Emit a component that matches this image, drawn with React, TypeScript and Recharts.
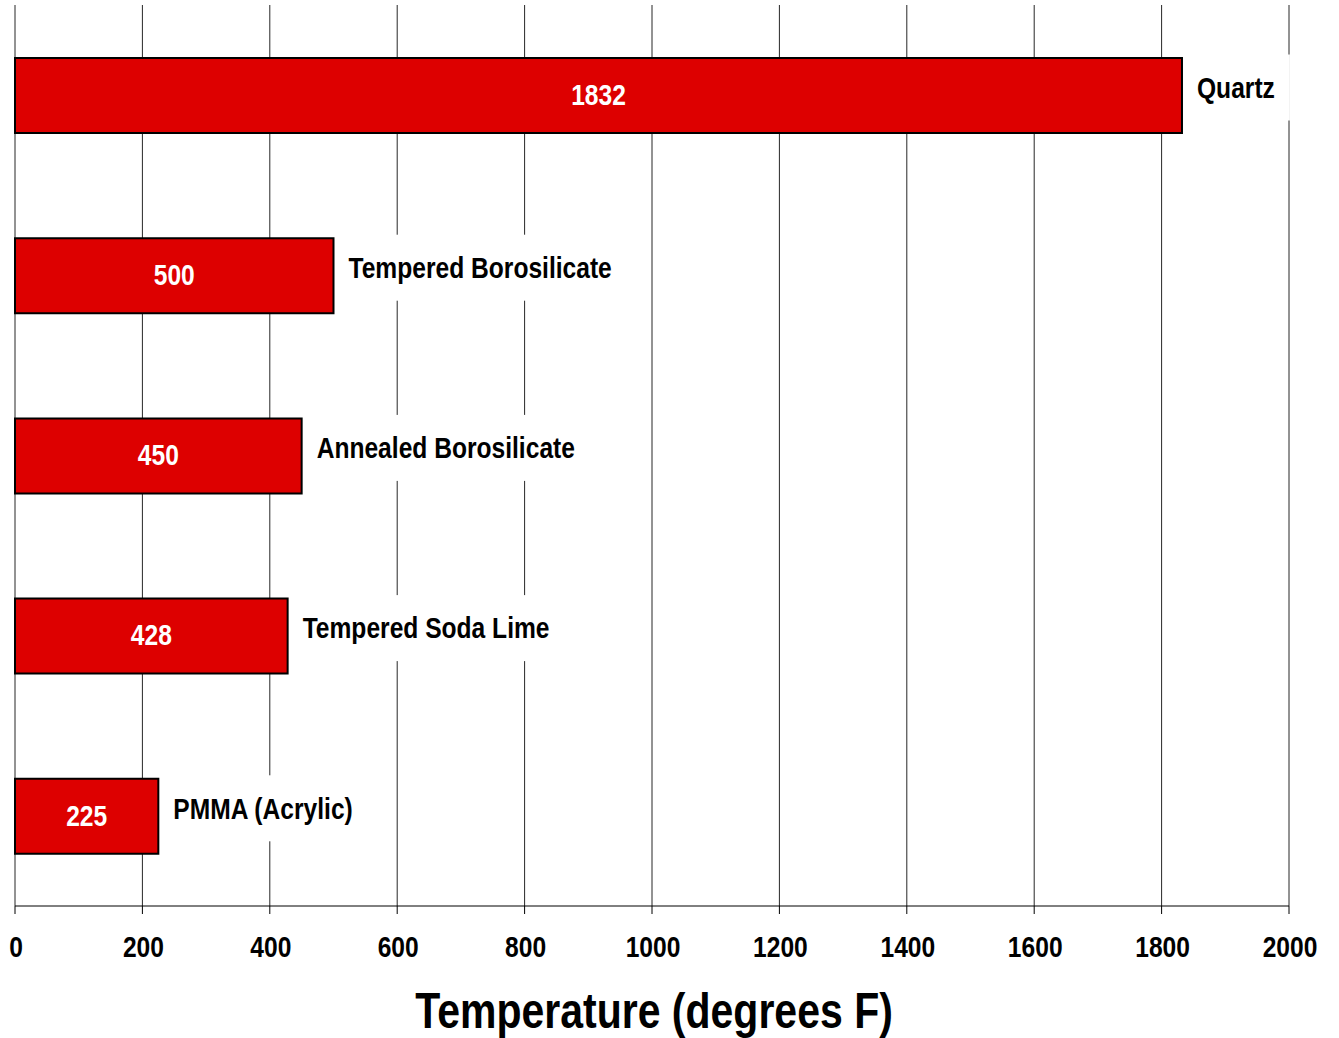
import { Bar, BarChart, CartesianGrid, LabelList, XAxis, YAxis } from 'recharts'

const materials = ['Quartz', 'Tempered Borosilicate', 'Annealed Borosilicate', 'Tempered Soda Lime', 'PMMA (Acrylic)']
const maxTemps = [1832, 500, 450, 428, 225]
const xTicks = [0, 200, 400, 600, 800, 1000, 1200, 1400, 1600, 1800, 2000]
const axisTitle = 'Temperature (degrees F)'

const data = materials.map((name, i) => ({ name, value: maxTemps[i] }))

// no Arial Narrow here, so squeeze Liberation Sans (Arial metrics) horizontally
const FONT = '"Liberation Sans", Arial, sans-serif'
const NARROW = 0.82
const LABEL_SIZE = 30

let measureCtx: CanvasRenderingContext2D | null = null
function textWidth(text: string, size: number): number {
  if (!measureCtx) measureCtx = document.createElement('canvas').getContext('2d')
  if (!measureCtx) return text.length * size * 0.55 * NARROW
  measureCtx.font = `bold ${size}px ${FONT}`
  return measureCtx.measureText(text).width * NARROW
}

type NarrowTextProps = {
  x: number
  y: number
  size: number
  fill?: string
  anchor?: 'start' | 'middle' | 'end'
  baseline?: 'central' | 'alphabetic'
  children: React.ReactNode
}

function NarrowText({ x, y, size, fill = '#000', anchor = 'start', baseline = 'alphabetic', children }: NarrowTextProps) {
  return (
    <text
      transform={`translate(${x},${y}) scale(${NARROW},1)`}
      x={0}
      y={0}
      textAnchor={anchor}
      dominantBaseline={baseline}
      fontFamily={FONT}
      fontWeight="bold"
      fontSize={size}
      fill={fill}
    >
      {children}
    </text>
  )
}

function CategoryLabel(props: any) {
  const { x, y, width, height, value } = props
  const left = Number(x) + Number(width)
  const cy = Number(y) + Number(height) / 2 - 8
  const w = textWidth(String(value), LABEL_SIZE)
  return (
    <g>
      <rect x={left + 2} y={cy - 33} width={w + 28} height={66} fill="#fff" />
      <NarrowText x={left + 15} y={cy} size={LABEL_SIZE} baseline="central">
        {value}
      </NarrowText>
    </g>
  )
}

function ValueLabel(props: any) {
  const { x, y, width, height, value } = props
  return (
    <NarrowText
      x={Number(x) + Number(width) / 2}
      y={Number(y) + Number(height) / 2 - 1}
      size={30}
      fill="#fff"
      anchor="middle"
      baseline="central"
    >
      {value}
    </NarrowText>
  )
}

function AxisTick(props: any) {
  const { x, y, payload } = props
  return (
    <NarrowText x={Number(x) + 1} y={Number(y) + 43} size={30} anchor="middle">
      {payload.value}
    </NarrowText>
  )
}

function AxisTitle(props: any) {
  const vb = props.viewBox || {}
  return (
    <NarrowText x={vb.x + vb.width / 2 + 2} y={vb.y + 122} size={50} anchor="middle">
      {axisTitle}
    </NarrowText>
  )
}

export default function App() {
  return (
    <div style={{ position: 'absolute', left: 0, top: 0, background: '#fff' }}>
      <BarChart
        width={1339}
        height={1038}
        data={data}
        layout="vertical"
        margin={{ top: 5, right: 50, bottom: 7, left: 15 }}
        barSize={75}
      >
        <CartesianGrid horizontal={false} stroke="#000" strokeOpacity={0.85} />
        <XAxis
          type="number"
          domain={[0, 2000]}
          ticks={xTicks}
          interval={0}
          height={125}
          axisLine={{ stroke: '#000' }}
          tickLine={{ stroke: '#000' }}
          tickSize={8}
          tickMargin={0}
          tick={AxisTick}
          label={<AxisTitle />}
        />
        <YAxis type="category" dataKey="name" hide />
        <Bar dataKey="value" fill="#DD0000" stroke="#000" strokeWidth={2} isAnimationActive={false}>
          <LabelList dataKey="value" content={ValueLabel} />
          <LabelList dataKey="name" content={CategoryLabel} />
        </Bar>
      </BarChart>
    </div>
  )
}
